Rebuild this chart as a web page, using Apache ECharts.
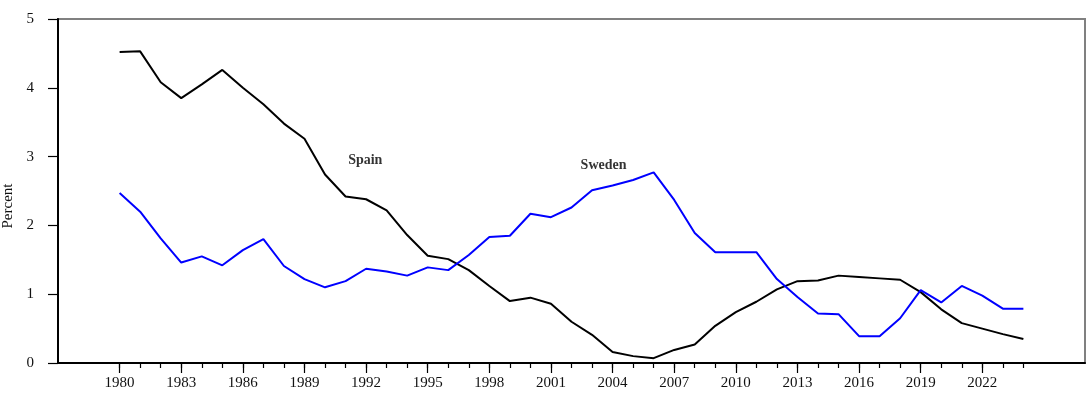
<!DOCTYPE html>
<html>
<head>
<meta charset="utf-8">
<script src="https://cdn.jsdelivr.net/npm/echarts@6/dist/echarts.min.js"></script>
<style>html,body{margin:0;padding:0;background:#fff;}#c{width:1091px;height:400px;}</style>
</head>
<body>
<div id="c"></div>
<script>
var years = [];
for (var yr = 1980; yr <= 2024; yr++) years.push(yr);
var axisYears = [];
for (var ay = 1977; ay <= 2027; ay++) axisYears.push(String(ay));

var spain = [4.52, 4.53, 4.08, 3.85, 4.05, 4.26, 4.00, 3.76, 3.48, 3.26,
             2.74, 2.42, 2.38, 2.22, 1.86, 1.56, 1.51, 1.35, 1.12, 0.90,
             0.95, 0.86, 0.60, 0.41, 0.16, 0.10, 0.07, 0.19, 0.27, 0.54,
             0.74, 0.89, 1.07, 1.19, 1.20, 1.27, 1.25, 1.23, 1.21, 1.03,
             0.78, 0.58, 0.50, 0.42, 0.35];
var sweden = [2.47, 2.20, 1.81, 1.46, 1.55, 1.42, 1.64, 1.80, 1.41, 1.22,
              1.10, 1.19, 1.37, 1.33, 1.27, 1.39, 1.35, 1.57, 1.83, 1.85,
              2.17, 2.12, 2.26, 2.51, 2.58, 2.66, 2.77, 2.37, 1.89, 1.61,
              1.61, 1.61, 1.22, 0.96, 0.72, 0.71, 0.39, 0.39, 0.65, 1.06,
              0.88, 1.12, 0.98, 0.79, 0.79];
var yTicks = [0, 1, 2, 3, 4, 5];
var seriesLabels = [
  {name: 'Spain', year: 1991.96, value: 2.95},
  {name: 'Sweden', year: 2003.56, value: 2.87}
];

var FONT = '"Liberation Serif", "Times New Roman", serif';
function pairs(arr) { return years.map(function (y, i) { return [String(y), arr[i]]; }); }
function inRange(v) { var n = +v; return n >= 1980 && n <= 2024; }

var chart = echarts.init(document.getElementById('c'));
chart.setOption({
  animation: false,
  backgroundColor: '#fff',
  grid: {left: 58, right: 6, top: 19, bottom: 37, show: true, borderColor: '#808080', borderWidth: 2, backgroundColor: 'transparent'},
  xAxis: [
    {
      type: 'category', data: axisYears, boundaryGap: false, position: 'bottom',
      axisLine: {show: true, lineStyle: {color: '#000', width: 2}},
      axisTick: {show: true, length: 5, lineStyle: {color: '#000', width: 1.2},
        interval: function (i, v) { return inRange(v); }},
      axisLabel: {show: false},
      splitLine: {show: false}
    },
    {
      type: 'category', data: axisYears, boundaryGap: false, position: 'bottom',
      axisLine: {show: false},
      axisTick: {show: true, length: 10, lineStyle: {color: '#000', width: 1.2},
        interval: function (i, v) { return inRange(v) && (+v - 1980) % 3 === 0; }},
      axisLabel: {show: true, fontFamily: FONT, fontSize: 15, color: '#111', margin: 13,
        interval: function (i, v) { return inRange(v) && (+v - 1980) % 3 === 0; }},
      splitLine: {show: false}
    },
    {
      type: 'value', min: 1977, max: 2027, show: false, position: 'bottom'
    }
  ],
  yAxis: {
    type: 'value', min: yTicks[0], max: yTicks[yTicks.length - 1], interval: 1,
    axisLine: {show: true, lineStyle: {color: '#000', width: 2}},
    axisTick: {show: true, length: 10, lineStyle: {color: '#000', width: 1.2}},
    axisLabel: {fontFamily: FONT, fontSize: 15, color: '#111', margin: 24},
    splitLine: {show: false}
  },
  graphic: [{
    type: 'text', x: 8, y: 206, rotation: Math.PI / 2,
    style: {text: 'Percent', font: '15px ' + FONT, fill: '#111', align: 'center', verticalAlign: 'middle'}
  }],
  series: [
    {
      name: 'Spain', type: 'line', xAxisIndex: 1, data: pairs(spain), symbol: 'none',
      lineStyle: {color: '#000', width: 2}, z: 3
    },
    {
      name: 'Sweden', type: 'line', xAxisIndex: 1, data: pairs(sweden), symbol: 'none',
      lineStyle: {color: '#0000ff', width: 2}, z: 3
    },
    {
      type: 'scatter', xAxisIndex: 2, symbolSize: 0, silent: true,
      data: seriesLabels.map(function (d) { return {value: [d.year, d.value], name: d.name}; }),
      label: {show: true, position: 'inside', formatter: '{b}', fontFamily: FONT, fontWeight: 'bold', fontSize: 14, color: '#000'}
    }
  ]
});
</script>
</body>
</html>
